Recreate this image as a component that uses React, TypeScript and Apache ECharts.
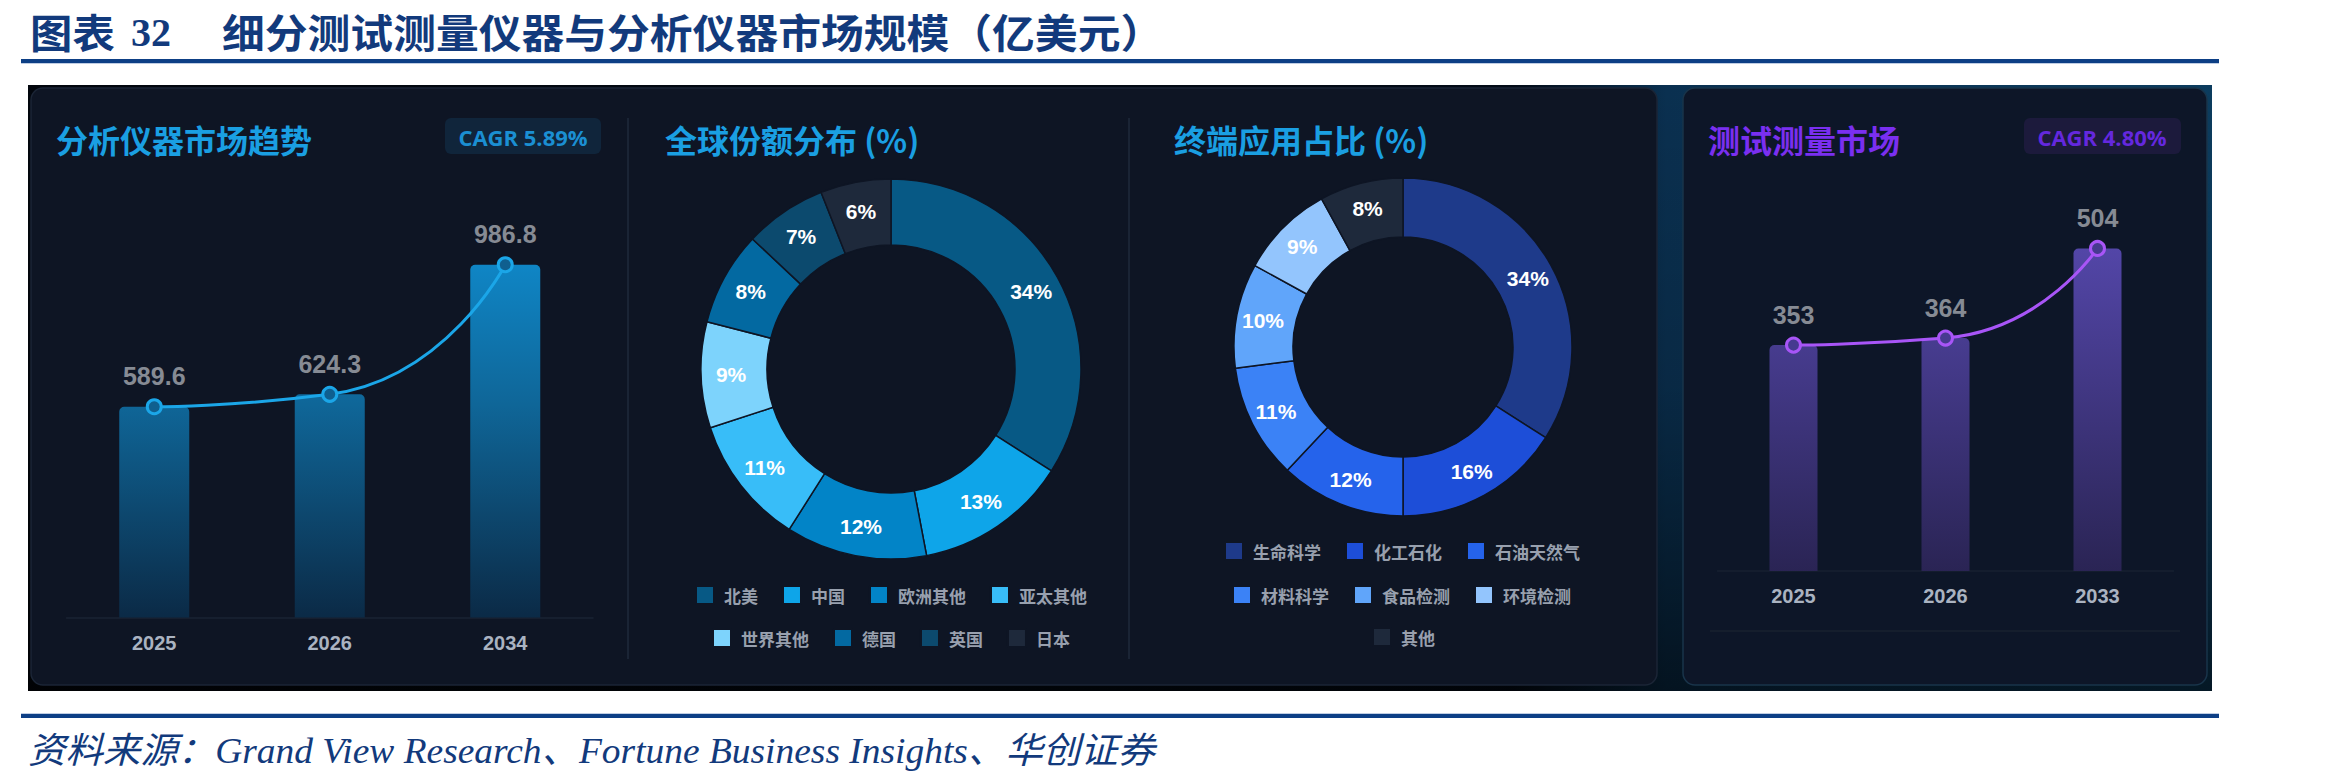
import React, { useEffect, useRef } from "react";
import * as echarts from "echarts";

// 分析仪器市场（亿美元）
const analyticYears = ["2025", "2026", "2034"];
const analyticValues = [589.6, 624.3, 986.8];

// 测试测量市场（亿美元）
const testYears = ["2025", "2026", "2033"];
const testValues = [353, 364, 504];

// 全球份额分布 (%)
const regionNames = ["北美", "中国", "欧洲其他", "亚太其他", "世界其他", "德国", "英国", "日本"];
const regionShares = [34, 13, 12, 11, 9, 8, 7, 6];
const regionColors = ["#075985", "#0ea5e9", "#0284c7", "#38bdf8", "#7dd3fc", "#0369a1", "#0c4a6e", "#1e293b"];

// 终端应用占比 (%)
const appNames = ["生命科学", "化工石化", "石油天然气", "材料科学", "食品检测", "环境检测", "其他"];
const appShares = [34, 16, 12, 11, 10, 9, 8];
const appColors = ["#1e3a8a", "#1d4ed8", "#2563eb", "#3b82f6", "#60a5fa", "#93c5fd", "#1e293b"];

const headerLabel = "图表";
const headerNumber = "32";
const headerTitle = "细分测试测量仪器与分析仪器市场规模（亿美元）";
const sourceNote = "资料来源：Grand View Research、Fortune Business Insights、华创证券";
const analyticCagr = "CAGR 5.89%";
const testCagr = "CAGR 4.80%";

const CJK = "'Noto Sans CJK SC', 'Noto Sans', sans-serif";
const NUM = "'Liberation Sans', Arial, sans-serif";
const NAVY = "#123a7c";

function legendRow(names: string[], left: number, top: number) {
  return {
    data: names,
    left,
    top,
    orient: "horizontal",
    padding: 0,
    itemGap: 24,
    itemWidth: 18,
    itemHeight: 18,
    icon: "rect",
    selectedMode: false,
    textStyle: {
      color: "#98a0ae",
      fontSize: 17,
      fontWeight: "bold",
      fontFamily: CJK,
      padding: [0, 0, 0, 5],
    },
  };
}

function pieSeries(names: string[], values: number[], colors: string[], center: number[], radius: number[], border: string) {
  return {
    type: "pie",
    center,
    radius,
    startAngle: 90,
    clockwise: true,
    silent: true,
    itemStyle: { borderColor: border, borderWidth: 1.5 },
    label: {
      show: true,
      position: "inside",
      formatter: "{c}%",
      color: "#ffffff",
      fontSize: 21,
      fontWeight: "bold",
      fontFamily: NUM,
    },
    labelLine: { show: false },
    data: names.map((n, i) => ({ name: n, value: values[i], itemStyle: { color: colors[i] } })),
  };
}

function buildOption() {
  const titleStyle = (text: string, fill: string) => ({
    text,
    fill,
    fontSize: 32,
    fontWeight: "bold",
    fontFamily: CJK,
    verticalAlign: "middle",
  });

  const graphic: any[] = [
    // header
    {
      type: "text",
      x: 30,
      y: 31,
      scaleX: 1.06,
      style: { text: headerLabel, fill: NAVY, fontSize: 40, fontWeight: "bold", fontFamily: CJK, verticalAlign: "middle" },
    },
    {
      type: "text",
      x: 131,
      y: 32,
      style: { text: headerNumber, fill: NAVY, fontSize: 40, fontWeight: "bold", fontFamily: "'Liberation Serif', serif", verticalAlign: "middle" },
    },
    {
      type: "text",
      x: 222,
      y: 31,
      scaleX: 1.07,
      style: { text: headerTitle, fill: NAVY, fontSize: 40, fontWeight: "bold", fontFamily: CJK, verticalAlign: "middle" },
    },
    { type: "rect", shape: { x: 21, y: 59, width: 2198, height: 4 }, style: { fill: "#0d3f85" } },
    { type: "rect", shape: { x: 21, y: 63, width: 2198, height: 1 }, style: { fill: "#bfcde3" } },

    // dark panel
    {
      type: "rect",
      shape: { x: 28, y: 85, width: 2184, height: 606 },
      style: {
        fill: {
          type: "linear", x: 0, y: 0, x2: 1, y2: 0,
          colorStops: [
            { offset: 0, color: "#02060d" },
            { offset: 0.68, color: "#030b17" },
            { offset: 0.75, color: "#0a3050" },
            { offset: 1, color: "#0c3c5e" },
          ],
        },
      },
    },
    {
      type: "rect",
      shape: { x: 28, y: 85, width: 2184, height: 606 },
      style: {
        fill: {
          type: "linear", x: 0, y: 0, x2: 0, y2: 1,
          colorStops: [
            { offset: 0, color: "rgba(0,0,0,0)" },
            { offset: 0.5, color: "rgba(0,0,0,0.15)" },
            { offset: 1, color: "rgba(0,0,0,0.6)" },
          ],
        },
      },
    },
    // cards
    {
      type: "rect",
      shape: { x: 31, y: 88, width: 1626, height: 597, r: 12 },
      style: { fill: "#0e1524", stroke: "#1b2536", lineWidth: 1.5 },
    },
    {
      type: "rect",
      shape: { x: 1683, y: 88, width: 524, height: 597, r: 12 },
      style: { fill: "#0d1628", stroke: "#19344a", lineWidth: 1.5 },
    },
    // dividers inside the wide card
    { type: "line", shape: { x1: 628, y1: 118, x2: 628, y2: 659 }, style: { stroke: "#1a2435", lineWidth: 2 } },
    { type: "line", shape: { x1: 1129, y1: 118, x2: 1129, y2: 659 }, style: { stroke: "#1a2435", lineWidth: 2 } },
    { type: "line", shape: { x1: 1710, y1: 631, x2: 2180, y2: 631 }, style: { stroke: "#18222f", lineWidth: 1.5 } },

    // card titles
    { type: "text", x: 56, y: 139, style: titleStyle("分析仪器市场趋势", "#1a9fe2") },
    { type: "text", x: 665, y: 139, style: titleStyle("全球份额分布 (%)", "#1a9fe2") },
    { type: "text", x: 1174, y: 139, style: titleStyle("终端应用占比 (%)", "#1a9fe2") },
    { type: "text", x: 1708, y: 139, style: titleStyle("测试测量市场", "#7a2ff0") },

    // CAGR badges
    { type: "rect", shape: { x: 445, y: 118, width: 156, height: 36, r: 6 }, style: { fill: "#10253b" } },
    {
      type: "text", x: 523, y: 137,
      style: { text: analyticCagr, fill: "#1b8fd2", fontSize: 22, fontWeight: "bold", fontFamily: "'Open Sans', sans-serif", align: "center", verticalAlign: "middle" },
    },
    { type: "rect", shape: { x: 2024, y: 118, width: 157, height: 36, r: 6 }, style: { fill: "#1c1a3c" } },
    {
      type: "text", x: 2102, y: 137,
      style: { text: testCagr, fill: "#6428de", fontSize: 22, fontWeight: "bold", fontFamily: "'Open Sans', sans-serif", align: "center", verticalAlign: "middle" },
    },

    // footer
    { type: "rect", shape: { x: 21, y: 713, width: 2198, height: 1 }, style: { fill: "#bfcde3" } },
    { type: "rect", shape: { x: 21, y: 714, width: 2198, height: 4 }, style: { fill: "#0d3f85" } },
    {
      type: "text", x: 28, y: 751,
      scaleX: 1.04,
      style: { text: sourceNote, fill: NAVY, fontSize: 36, fontStyle: "italic", fontFamily: "'Liberation Serif', 'Noto Sans CJK SC', serif", verticalAlign: "middle" },
    },
  ];

  const axisLabel = { color: "#aab3c1", fontSize: 20, fontWeight: "bold", fontFamily: NUM, margin: 15 };
  const barLabel = { show: true, position: "top", distance: 18, color: "#868b94", fontSize: 25, fontWeight: "bold", fontFamily: NUM };

  return {
    animation: false,
    backgroundColor: "#ffffff",
    graphic: { elements: graphic },
    grid: [
      { left: 66.5, top: 188.5, width: 526.5, height: 429 },
      { left: 1717.5, top: 187, width: 456, height: 384 },
    ],
    xAxis: [
      {
        gridIndex: 0, type: "category", data: analyticYears,
        axisLine: { lineStyle: { color: "#1a2333", width: 1.5 } },
        axisTick: { show: false }, axisLabel,
      },
      {
        gridIndex: 1, type: "category", data: testYears,
        axisLine: { lineStyle: { color: "#172131", width: 1.5 } },
        axisTick: { show: false }, axisLabel,
      },
    ],
    yAxis: [
      { gridIndex: 0, type: "value", min: 0, max: 1200, show: false, splitLine: { show: false } },
      { gridIndex: 1, type: "value", min: 0, max: 600, show: false, splitLine: { show: false } },
    ],
    legend: [
      legendRow(regionNames.slice(0, 4), 695, 585),
      legendRow(regionNames.slice(4), 712, 628),
      legendRow(appNames.slice(0, 3), 1224, 541),
      legendRow(appNames.slice(3, 6), 1232, 585),
      legendRow(appNames.slice(6), 1372, 627),
    ],
    series: [
      {
        type: "bar", xAxisIndex: 0, yAxisIndex: 0, data: analyticValues, barWidth: 70, silent: true,
        itemStyle: {
          borderRadius: [5, 5, 0, 0],
          color: {
            type: "linear", x: 0, y: 262, x2: 0, y2: 618, global: true,
            colorStops: [
              { offset: 0, color: "#0f86c6" },
              { offset: 0.4, color: "#0f6698" },
              { offset: 1, color: "#0b2a46" },
            ],
          },
        },
        label: barLabel,
      },
      {
        type: "line", xAxisIndex: 0, yAxisIndex: 0, data: analyticValues, smooth: 0.6, silent: true, z: 3,
        symbol: "circle", symbolSize: 14,
        lineStyle: { color: "#1ba6e8", width: 3 },
        itemStyle: { color: "#0f5f8f", borderColor: "#1ba6e8", borderWidth: 3 },
      },
      {
        type: "bar", xAxisIndex: 1, yAxisIndex: 1, data: testValues, barWidth: 48, silent: true,
        itemStyle: {
          borderRadius: [5, 5, 0, 0],
          color: {
            type: "linear", x: 0, y: 246, x2: 0, y2: 572, global: true,
            colorStops: [
              { offset: 0, color: "#5346a8" },
              { offset: 1, color: "#2a2454" },
            ],
          },
        },
        label: barLabel,
      },
      {
        type: "line", xAxisIndex: 1, yAxisIndex: 1, data: testValues, smooth: 0.6, silent: true, z: 3,
        symbol: "circle", symbolSize: 14,
        lineStyle: { color: "#a855f7", width: 3 },
        itemStyle: { color: "#463a90", borderColor: "#a855f7", borderWidth: 3 },
      },
      pieSeries(regionNames, regionShares, regionColors, [891, 369], [124, 190], "#0e1524"),
      pieSeries(appNames, appShares, appColors, [1403, 347], [110, 169], "#0e1524"),
    ],
  };
}

export default function App() {
  const ref = useRef<HTMLDivElement>(null);

  useEffect(() => {
    if (!ref.current) return;
    const chart = echarts.init(ref.current, null, { renderer: "svg" });
    chart.setOption(buildOption() as any);
    return () => chart.dispose();
  }, []);

  return (
    <div
      ref={ref}
      style={{ position: "absolute", left: 0, top: 0, width: 2327, height: 783, background: "#ffffff" }}
    />
  );
}
